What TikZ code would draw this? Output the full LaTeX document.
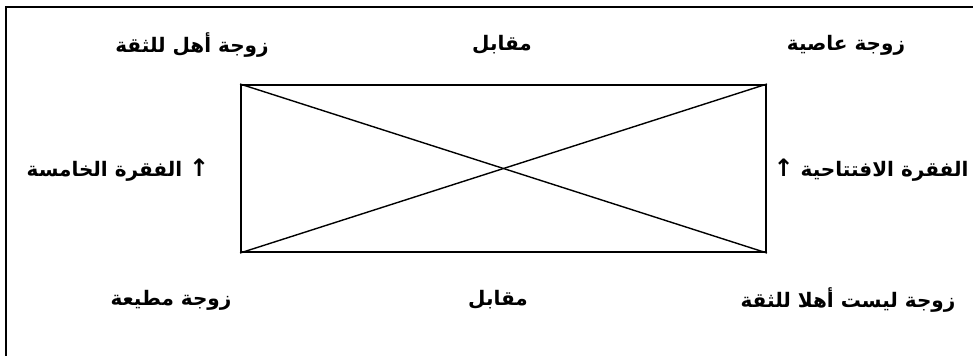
\documentclass[tikz,border=0pt]{standalone}
\usepackage{fontspec}
\newfontfamily\arabicfont[Script=Arabic]{DejaVu Sans}
\newfontfamily\symfont{DejaVu Sans}
\TeXXeTstate=1
\newcommand{\uparr}{{\symfont\fontsize{12}{12}\selectfont ↑}}
\begin{document}
\begin{tikzpicture}[x=0.5pt,y=-0.5pt,
  lbl/.style={inner sep=0pt,font=\arabicfont\bfseries\fontsize{10}{12}\selectfont},
  frameline/.style={line width=1.1pt},
  boxline/.style={line width=1pt}]
\useasboundingbox (0,0) rectangle (973,355);
\coordinate (ftr) at (975,7);
\coordinate (ftl) at (6,7);
\coordinate (fbl) at (6,357);
\draw[frameline] (ftr) -- (ftl) -- (fbl);
\node[draw,boxline,minimum width=262.5pt,minimum height=83.5pt,inner sep=0pt] (box) at (503.5,168.5) {};
\draw[line width=0.7pt] (box.north west) -- (box.south east);
\draw[line width=0.7pt] (box.north east) -- (box.south west);
\node[lbl] (tl) at (192,45) {\beginR زوجة أهل للثقة\endR};
\node[lbl] (tc) at (502,45) {\beginR مقابل\endR};
\node[lbl] (tr) at (846,45) {\beginR زوجة عاصية\endR};
\node[lbl] (ml) at (118,170) {\beginR الفقرة الخامسة\endR\ \uparr};
\node[lbl] (mr) at (871,170) {\uparr\ \beginR الفقرة الافتتاحية\endR};
\node[lbl] (bl) at (171,300) {\beginR زوجة مطيعة\endR};
\node[lbl] (bc) at (498,300) {\beginR مقابل\endR};
\node[lbl] (br) at (848,300) {\beginR زوجة ليست أهلا للثقة\endR};
\end{tikzpicture}
\end{document}
